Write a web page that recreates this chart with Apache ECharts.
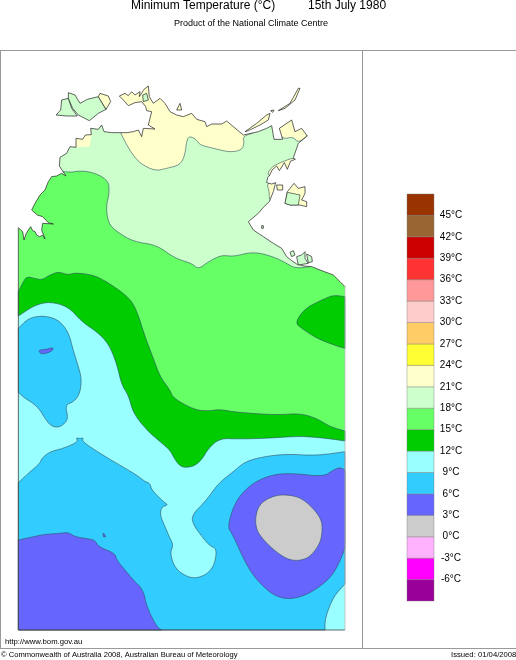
<!DOCTYPE html>
<html>
<head>
<meta charset="utf-8">
<style>
html,body{margin:0;padding:0;background:#fff;}
#main{width:516px;height:660px;}
</style>
<script src="https://cdn.jsdelivr.net/npm/echarts@6/dist/echarts.min.js"></script>
</head>
<body>
<div id="main"></div>
<script>
// temperature bands, coldest first (lower bound of each, degrees C)
var bandLows = [-9,-6,-3,0,3,6,9,12,15,18,21,24,27,30,33,36,39,42,45];
var bandColors = ['#990099','#FF00FF','#FFB3FF','#CCCCCC','#6666FF','#33CCFF','#99FFFF','#00CC00','#66FF66','#CCFFCC','#FFFFCC','#FFFF33','#FFCC66','#FFCCCC','#FF9999','#FF3333','#CC0000','#996633','#993300'];

// isotherm regions, in map grid units
var mapBox = [[55,153],[1035,153],[1035,1890],[55,1890]];
var pale18 = [[190,520],[260,510],[325,538],[328,580],[318,620],[325,670],[350,695],[400,725],[470,735],[525,775],[575,790],[595,808],[625,785],[665,765],[700,770],[760,755],[820,770],[860,790],[885,805],[935,800],[960,790],[1000,580],[1000,180],[100,180],[100,480]];
var cream21 = [[360,395],[375,425],[395,460],[420,490],[465,513],[500,505],[540,495],[555,465],[560,420],[570,408],[590,420],[600,435],[640,445],[690,457],[725,450],[733,430],[728,408],[775,395],[780,280],[350,240],[340,330]];
var creamWest = [[225,412],[276,400],[268,440],[225,442]];
var creamGove = [[848,418],[830,385],[875,350],[935,395],[895,430],[880,410]];
var creamBlueMud = [[812,502],[850,484],[884,472],[900,490],[850,530],[800,530]];
var creamGroote = [[800,550],[830,545],[825,580],[808,605],[808,575]];
var aqua9 = [[55,910],[150,860],[300,920],[400,1100],[450,1180],[520,1270],[1035,1305],[1035,1890],[55,1890]];
var green12 = [[55,875],[70,845],[80,830],[105,835],[125,840],[150,825],[175,815],[205,825],[225,818],[280,825],[320,845],[385,890],[410,930],[435,1010],[460,1075],[480,1130],[510,1170],[520,1195],[585,1230],[625,1233],[660,1228],[710,1237],[830,1245],[900,1240],[950,1255],[990,1280],[1035,1293],[1035,1323],[980,1315],[900,1308],[800,1315],[715,1317],[660,1315],[625,1345],[605,1380],[580,1400],[545,1403],[525,1380],[510,1350],[480,1325],[440,1290],[400,1240],[385,1185],[365,1155],[350,1090],[325,1030],[290,995],[245,965],[205,920],[150,905],[105,915],[55,948]];
var green12East = [[885,968],[915,925],[965,900],[1000,885],[1035,890],[1035,1045],[1010,1038],[950,1015],[905,985]];
var blue6West = [[55,985],[85,955],[125,947],[165,955],[190,975],[208,1005],[218,1045],[232,1090],[245,1135],[240,1180],[222,1205],[195,1215],[205,1255],[190,1275],[170,1283],[150,1275],[135,1255],[120,1230],[100,1210],[75,1195],[55,1177]];
var blue6South = [[55,1448],[85,1420],[120,1390],[125,1375],[150,1355],[190,1345],[225,1330],[233,1322],[228,1313],[240,1316],[250,1313],[247,1325],[300,1360],[350,1390],[410,1425],[435,1445],[450,1450],[455,1470],[490,1505],[505,1515],[485,1520],[480,1545],[495,1580],[510,1615],[520,1635],[510,1660],[525,1705],[560,1730],[590,1735],[625,1720],[645,1690],[650,1645],[630,1638],[610,1615],[580,1575],[575,1545],[620,1500],[655,1450],[700,1415],[735,1385],[790,1370],[860,1362],[950,1367],[1035,1355],[1035,1752],[1000,1790],[975,1855],[975,1890],[55,1890]];
var indigo3Dot = [[115,1050],[140,1048],[160,1042],[158,1052],[140,1060],[122,1062]];
var indigo3West = [[55,1620],[100,1610],[135,1603],[180,1600],[205,1597],[225,1610],[255,1615],[285,1620],[295,1640],[345,1660],[350,1680],[375,1710],[400,1740],[430,1770],[440,1820],[470,1880],[485,1890],[55,1890]];
var indigo3East = [[683,1580],[700,1520],[725,1480],[765,1445],[820,1423],[880,1420],[970,1430],[1000,1410],[1020,1402],[1035,1410],[1035,1645],[1015,1695],[990,1735],[945,1770],[905,1790],[860,1798],[820,1785],[785,1755],[755,1720],[730,1675],[710,1630],[695,1600]];
var indigo3Speck = [[309,1600],[314,1603],[317,1610],[310,1610]];
var grey0 = [[767,1550],[775,1520],[795,1500],[830,1485],[870,1485],[905,1495],[940,1525],[965,1560],[967,1595],[960,1630],[935,1665],[910,1680],[875,1682],[840,1665],[800,1630],[775,1600],[767,1575]];

// mainland coast, west edge of the box round to its east edge
var coast = [[55,683],[62,690],[68,695],[72,720],[78,702],[85,690],[92,680],[98,692],[105,695],[110,705],[118,710],[128,706],[135,717],[125,690],[128,670],[160,672],[145,668],[128,650],[112,645],[95,630],[105,610],[120,585],[135,570],[145,545],[155,530],[170,528],[185,520],[198,528],[178,498],[180,472],[200,460],[210,440],[228,442],[228,415],[248,418],[256,405],[274,404],[272,385],[295,388],[305,375],[312,395],[335,398],[360,398],[380,398],[400,395],[415,390],[425,410],[430,385],[465,387],[445,375],[455,335],[440,332],[437,320],[425,305],[405,308],[385,317],[370,300],[358,288],[375,280],[385,287],[395,275],[405,285],[420,275],[418,290],[432,268],[445,258],[448,290],[460,310],[480,295],[495,310],[510,335],[530,345],[550,350],[575,340],[590,358],[615,365],[620,380],[635,372],[665,372],[680,363],[700,380],[730,405],[775,395],[800,385],[815,377],[822,418],[848,418],[838,385],[875,360],[885,395],[905,385],[922,408],[895,430],[890,445],[880,473],[886,478],[872,483],[862,508],[853,488],[838,512],[830,498],[816,510],[808,528],[803,532],[800,548],[815,552],[827,548],[820,575],[808,605],[790,622],[775,640],[745,665],[760,690],[775,700],[790,710],[820,730],[845,745],[860,770],[875,782],[890,792],[912,798],[935,800],[960,810],[1000,825],[1020,845],[1035,860]];
var seaCorners = [[1038,860],[1038,153],[52,153],[52,683]];

// islands, drawn on top of the sea
var palePatches = [
    [[168,345],[182,330],[185,300],[205,295],[215,325],[232,348],[200,348]],
    [[205,278],[225,285],[240,310],[262,298],[295,290],[318,328],[295,340],[268,362],[235,345],[218,325],[205,295]],
    [[428,285],[440,280],[445,300],[430,305]],
    [[785,677],[790,677],[790,685],[785,685]],
    [[870,757],[880,752],[885,765],[875,770]],
    [[890,770],[905,765],[915,755],[915,775],[925,790],[895,795]],
    [[920,762],[935,770],[937,785],[925,788]]
];
var creamPatches = [
    [[295,290],[300,280],[325,288],[332,305],[318,328]],
    [[735,395],[770,370],[800,345],[810,340],[805,360],[780,375],[745,392]],
    [[812,332],[822,330],[818,337]],
    [[530,330],[540,310],[545,330]],
    [[835,332],[870,310],[895,265],[900,265],[885,300],[855,325]],
    [[830,555],[848,555],[848,570],[832,570]],
    [[855,610],[862,575],[882,550],[895,565],[915,560],[915,580],[905,600],[920,605],[920,620],[900,615],[870,615]]
];
var grootePale = [[862,577],[900,585],[895,615],[870,615],[855,610]];
var boxEdgeDark = [[55,683],[55,1890],[1035,1890]];
var boxEdgeLight = [[1035,1890],[1035,860]];

var colorByLow = {};
bandLows.forEach(function (low, i) { colorByLow[low] = bandColors[i]; });

// corner cutting for the contours, points on the box edge stay where they are
function onBox(p) {
    return p[0] <= 55 || p[0] >= 1035 || p[1] >= 1890;
}
function cut(p, q, t) {
    return [p[0] + (q[0] - p[0]) * t, p[1] + (q[1] - p[1]) * t];
}
function rounded(points) {
    var out = [];
    for (var i = 0; i < points.length; i++) {
        var p = points[i];
        var q = points[(i + 1) % points.length];
        out.push(onBox(p) ? p : cut(p, q, 0.25));
        out.push(onBox(q) ? q : cut(p, q, 0.75));
    }
    return out;
}

var contourEdge = '#2f4f5f';
var mapLayers = [];
function addLayer(points, low, edge, width) {
    mapLayers.push({points: points, color: low === null ? '#fff' : colorByLow[low], edge: edge, width: width});
}
function addContour(points, low) {
    addLayer(rounded(rounded(points)), low, contourEdge, 0.6);
}
function addLine(points, edge, width) {
    mapLayers.push({points: points, line: true, edge: edge, width: width});
}

addLayer(mapBox, 15, null, 0);
addContour(pale18, 18);
addContour(cream21, 21);
addLayer(creamWest, 21, null, 0);
addContour(creamGove, 21);
addContour(creamBlueMud, 21);
addContour(creamGroote, 21);
addLayer(aqua9, 9, null, 0);
addContour(green12, 12);
addContour(green12East, 12);
addContour(blue6West, 6);
addContour(blue6South, 6);
addContour(indigo3Dot, 3);
addContour(indigo3West, 3);
addContour(indigo3East, 3);
addLayer(indigo3Speck, 3, contourEdge, 0.6);
addContour(grey0, 0);
addLayer(coast.concat(seaCorners), null, null, 0);
addLine(coast, '#222', 0.7);
palePatches.forEach(function (p) { addLayer(p, 18, '#222', 0.7); });
creamPatches.forEach(function (p) { addLayer(p, 21, '#222', 0.7); });
addLayer(grootePale, 18, '#222', 0.6);
addLine(boxEdgeDark, '#444', 0.8);
addLine(boxEdgeLight, '#bbb', 0.8);

function renderLayer(params, api) {
    var layer = mapLayers[api.value(0)];
    var pts = layer.points.map(function (p) { return api.coord(p); });
    if (layer.line) {
        return {
            type: 'polyline',
            shape: {points: pts},
            style: {fill: null, stroke: layer.edge, lineWidth: layer.width}
        };
    }
    return {
        type: 'polygon',
        shape: {points: pts},
        style: {fill: layer.color, stroke: layer.edge, lineWidth: layer.width}
    };
}

function renderBand(params, api) {
    var low = api.value(0);
    var a = api.coord([0, low]);
    var b = api.coord([1, low + 3]);
    return {
        type: 'rect',
        shape: {x: a[0], y: b[1], width: b[0] - a[0], height: a[1] - b[1]},
        style: {fill: colorByLow[low], stroke: '#777', lineWidth: 0.4}
    };
}

function textBlock(text, left, top, size) {
    return {
        text: text,
        left: left,
        top: top,
        padding: 0,
        textStyle: {fontFamily: 'Liberation Sans', fontSize: size, fontWeight: 'normal', color: '#000'}
    };
}

var frameColor = '#999';
function frameLine(x1, y1, x2, y2) {
    return {
        type: 'line',
        silent: true,
        shape: {x1: x1, y1: y1, x2: x2, y2: y2},
        style: {stroke: frameColor, lineWidth: 1}
    };
}

var myChart = echarts.init(document.getElementById('main'), null, {renderer: 'canvas'});
myChart.setOption({
    animation: false,
    backgroundColor: '#fff',
    title: [
        textBlock('Minimum Temperature (°C)', 131, 0, 12),
        textBlock('15th July 1980', 308, 0, 12),
        textBlock('Product of the National Climate Centre', 174, 19, 9),
        textBlock('http://www.bom.gov.au', 5, 638, 7.7),
        textBlock('© Commonwealth of Australia 2008, Australian Bureau of Meteorology', 1, 651, 7.6),
        textBlock('Issued: 01/04/2008', 451, 651, 7.7)
    ],
    graphic: [
        frameLine(0, 50.5, 516, 50.5),
        frameLine(0.5, 50, 0.5, 648),
        frameLine(362.5, 50, 362.5, 648),
        frameLine(0, 648.5, 516, 648.5)
    ],
    grid: [
        {left: 0, right: 0, top: 0, bottom: 0},
        {left: 407, top: 194, width: 27, height: 407}
    ],
    xAxis: [
        {type: 'value', gridIndex: 0, min: 0, max: 1548, show: false},
        {type: 'value', gridIndex: 1, min: 0, max: 1, show: false}
    ],
    yAxis: [
        {type: 'value', gridIndex: 0, min: 0, max: 1980, inverse: true, show: false},
        {
            type: 'value',
            gridIndex: 1,
            position: 'right',
            min: -9,
            max: 48,
            interval: 3,
            splitLine: {show: false},
            axisLine: {show: false},
            axisTick: {show: false},
            axisLabel: {
                margin: 17,
                align: 'center',
                fontFamily: 'Liberation Sans',
                fontSize: 10,
                color: '#000',
                formatter: function (v) {
                    if (v === -9 || v === 48) {
                        return '';
                    }
                    return v + '°C';
                }
            }
        }
    ],
    series: [
        {
            type: 'custom',
            xAxisIndex: 0,
            yAxisIndex: 0,
            silent: true,
            renderItem: renderLayer,
            data: mapLayers.map(function (l, i) { return [i]; }),
            encode: {x: -1, y: -1}
        },
        {
            type: 'custom',
            xAxisIndex: 1,
            yAxisIndex: 1,
            silent: true,
            renderItem: renderBand,
            data: bandLows.map(function (low) { return [low]; }),
            encode: {y: 0}
        }
    ]
});
</script>
</body>
</html>
